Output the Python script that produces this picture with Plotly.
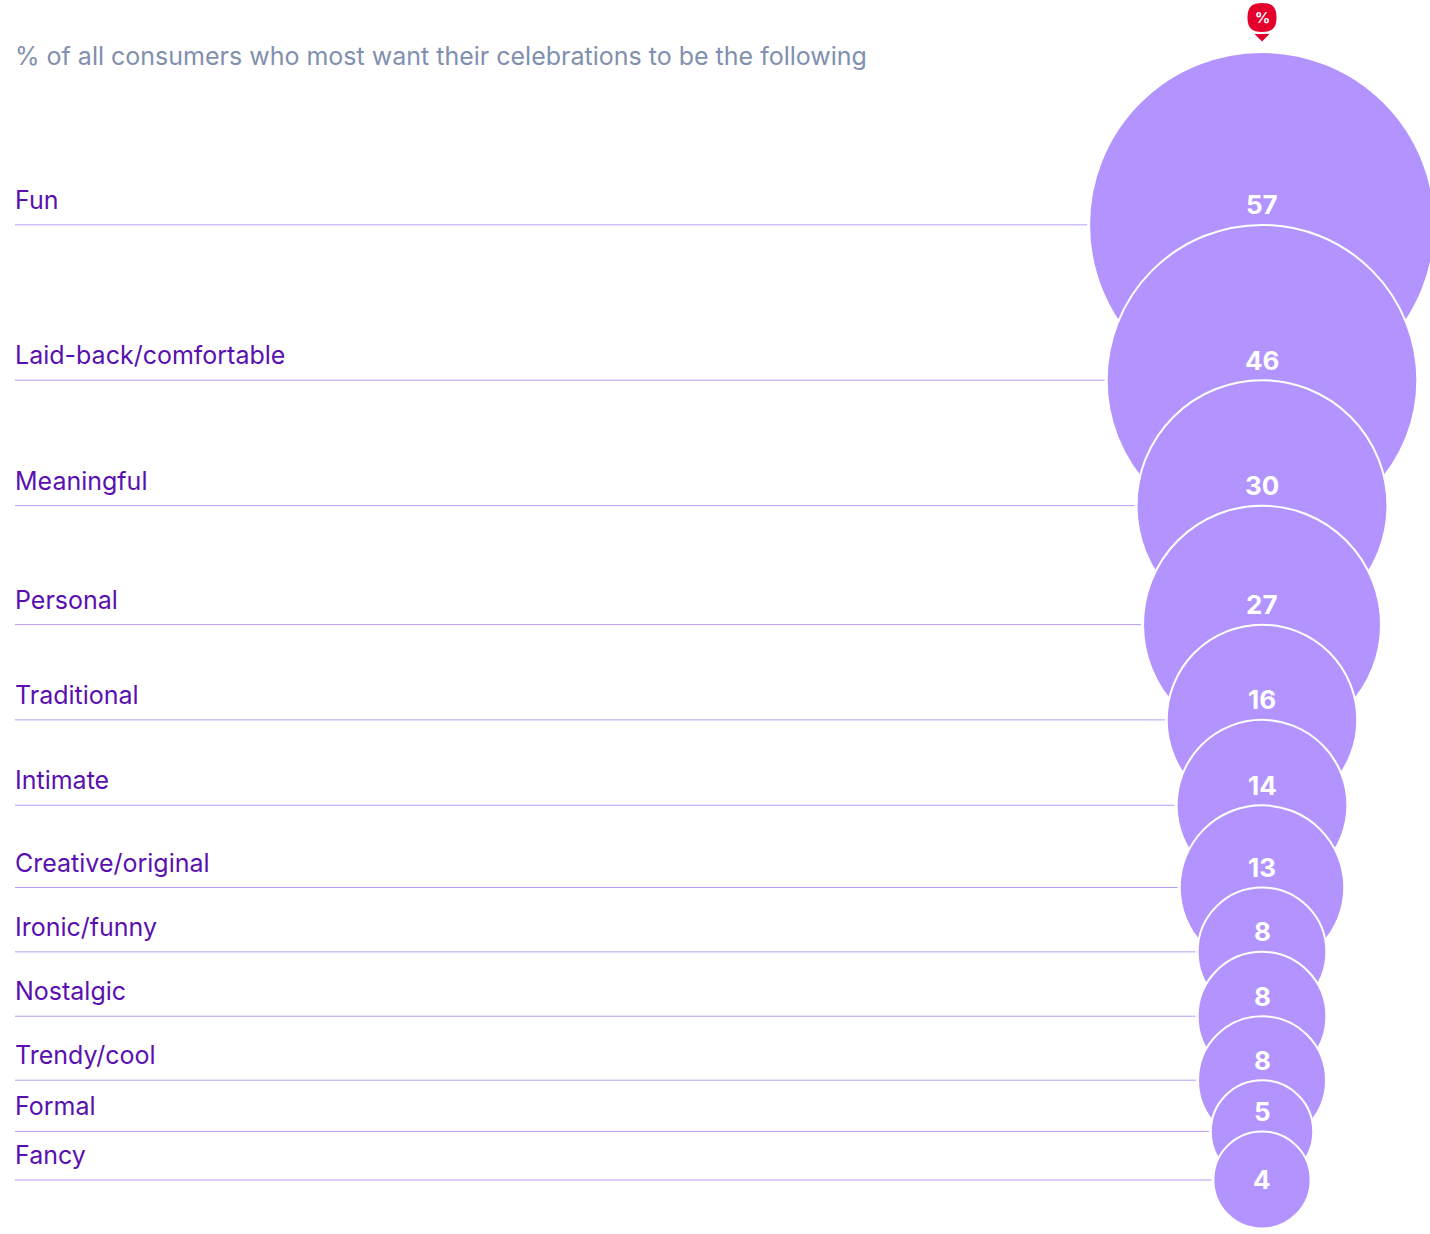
import math
import plotly.graph_objects as go

categories = ["Fun", "Laid-back/comfortable", "Meaningful", "Personal", "Traditional", "Intimate",
              "Creative/original", "Ironic/funny", "Nostalgic", "Trendy/cool", "Formal", "Fancy"]
# Printed percentages
values = [57, 46, 30, 27, 16, 14, 13, 8, 8, 8, 5, 4]
# Unrounded shares
area_values = [57.0, 46.0, 30.0, 27.0, 17.3, 13.9, 12.9, 7.9, 7.9, 7.8, 5.0, 4.5]

W, H = 1430, 1234
CX, TOP, K = 1262, 52, 22.9
LEFT = 15
radii = [K * math.sqrt(v) for v in area_values]
ys = []
for i, r in enumerate(radii):
    ys.append(TOP + r if i == 0 else ys[-1] + r)

FONT = "Inter"
fig = go.Figure()

# Leader lines
lx, ly = [], []
for y, r in zip(ys, radii):
    lx += [LEFT, CX - r - 2, None]
    ly += [y, y, None]
fig.add_trace(go.Scatter(x=lx, y=ly, mode="lines", line=dict(color="#b79cf5", width=1), hoverinfo="skip"))

# Bubbles, each drawn over the previous one
for c, y, r in zip(categories, ys, radii):
    fig.add_trace(go.Scatter(x=[CX], y=[y], mode="markers", name=c,
                             marker=dict(size=2 * r, color="#b394ff", line=dict(color="white", width=2))))

annotations = []
for i, (c, v, y) in enumerate(zip(categories, values, ys)):
    annotations.append(dict(x=LEFT, y=y, xref="x", yref="y", text=c, showarrow=False, xanchor="left",
                            yanchor="middle", yshift=25, xshift=-2,
                            font=dict(family=FONT, size=25, color="#5a10b0")))
    annotations.append(dict(x=CX, y=y, xref="x", yref="y", text=f"<b>{v}</b>", showarrow=False,
                            xanchor="center", yanchor="middle", yshift=0 if i == len(values) - 1 else 20,
                            font=dict(family=FONT, size=26, color="white")))
annotations.append(dict(x=LEFT, y=56, xref="x", yref="y", text="% of all consumers who most want their celebrations to be the following",
                        showarrow=False, xanchor="left", yanchor="middle", xshift=-2,
                        font=dict(family=FONT, size=25, color="#8090ae")))
annotations.append(dict(x=CX, y=17.5, xref="x", yref="y", text="<b>%</b>", showarrow=False,
                        xanchor="center", yanchor="middle", font=dict(family=FONT, size=15, color="white")))

shapes = [
    dict(type="path", xref="x", yref="y", fillcolor="#e4002b", line=dict(width=0),
         path="M 1262 3 C 1272 3 1276.5 7 1276.5 17.5 C 1276.5 28 1272 32 1262 32 "
              "C 1252 32 1247.5 28 1247.5 17.5 C 1247.5 7 1252 3 1262 3 Z"),
    dict(type="path", xref="x", yref="y", fillcolor="#e4002b", line=dict(width=0),
         path="M 1254.5 34 L 1269.5 34 L 1262 41.5 Z"),
]

fig.update_layout(
    width=W, height=H, margin=dict(l=0, r=0, t=0, b=0), showlegend=False,
    plot_bgcolor="white", paper_bgcolor="white", annotations=annotations, shapes=shapes,
    xaxis=dict(range=[0, W], visible=False, fixedrange=True),
    yaxis=dict(range=[H, 0], visible=False, fixedrange=True),
)
fig.write_html("out.html", config={"displayModeBar": False},
               post_script="document.body.style.margin='0';document.documentElement.style.overflow='hidden';")
